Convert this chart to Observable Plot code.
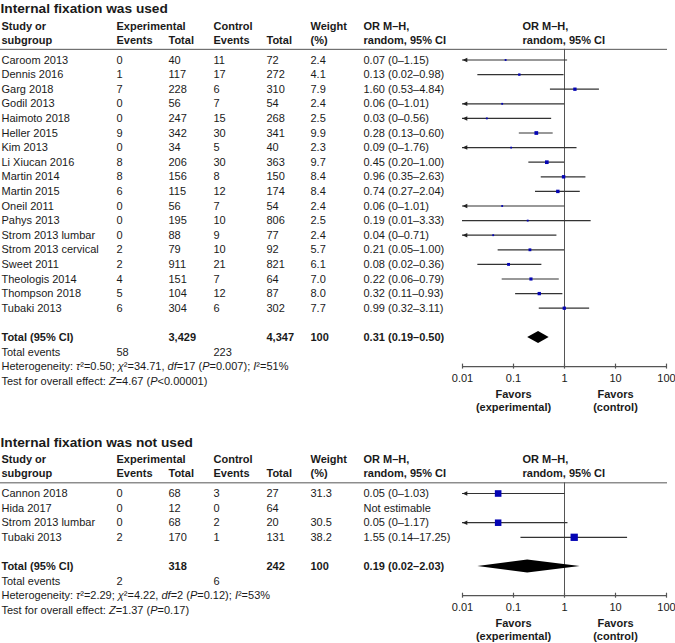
<!DOCTYPE html>
<html><head><meta charset="utf-8">
<script src="https://cdn.jsdelivr.net/npm/d3@7"></script>
<script src="https://cdn.jsdelivr.net/npm/@observablehq/plot@0.6"></script>
<style>body{margin:0;background:#fff;} svg{display:block}</style>
</head><body><div id="chart"></div>
<script>
// ---------- Panel 1: internal fixation was used ----------
const title1 = "Internal fixation was used";
const studies1 = ["Caroom 2013","Dennis 2016","Garg 2018","Godil 2013","Haimoto 2018","Heller 2015","Kim 2013","Li Xiucan 2016","Martin 2014","Martin 2015","Oneil 2011","Pahys 2013","Strom 2013 lumbar","Strom 2013 cervical","Sweet 2011","Theologis 2014","Thompson 2018","Tubaki 2013"];
const expEvents1 = [0,1,7,0,0,9,0,8,8,6,0,0,0,2,2,4,5,6];
const expTotal1  = [40,117,228,56,247,342,34,206,156,115,56,195,88,79,911,151,104,304];
const ctlEvents1 = [11,17,6,7,15,30,5,30,8,12,7,10,9,10,21,7,12,6];
const ctlTotal1  = [72,272,310,54,268,341,40,363,150,174,54,806,77,92,821,64,87,302];
const weights1   = [2.4,4.1,7.9,2.4,2.5,9.9,2.3,9.7,8.4,8.4,2.4,2.5,2.4,5.7,6.1,7.0,8.0,7.7];
const or1 = [0.07,0.13,1.60,0.06,0.03,0.28,0.09,0.45,0.96,0.74,0.06,0.19,0.04,0.21,0.08,0.22,0.32,0.99];
const lo1 = [0,0.02,0.53,0,0,0.13,0,0.20,0.35,0.27,0,0.01,0,0.05,0.02,0.06,0.11,0.32];
const hi1 = [1.15,0.98,4.84,1.01,0.56,0.60,1.76,1.00,2.63,2.04,1.01,3.33,0.71,1.00,0.36,0.79,0.93,3.11];
const totals1 = ["3,429","4,347","100"];
const pooled1 = [0.31,0.19,0.50];
const events1 = [58,223];
const het1 = ["0.50","34.71","17","0.007","51"];
const test1 = ["4.67","<0.00001"];

// ---------- Panel 2: internal fixation was not used ----------
const title2 = "Internal fixation was not used";
const studies2 = ["Cannon 2018","Hida 2017","Strom 2013 lumbar","Tubaki 2013"];
const expEvents2 = [0,0,0,2];
const expTotal2  = [68,12,68,170];
const ctlEvents2 = [3,0,2,1];
const ctlTotal2  = [27,64,20,131];
const weights2   = [31.3,null,30.5,38.2];
const or2 = [0.05,null,0.05,1.55];
const lo2 = [0,null,0,0.14];
const hi2 = [1.03,null,1.17,17.25];
const totals2 = ["318","242","100"];
const pooled2 = [0.19,0.02,2.03];
const events2 = [2,6];
const het2 = ["2.29","4.22","2","0.12","53"];
const test2 = ["1.37","=0.17"];

// ---------- shared ----------
const ticks = [0.01,0.1,1,10,100];
const tickLabels = ["0.01","0.1","1","10","100"];
const favors = [{x:0.1, a:"Favors", b:"(experimental)"},{x:10, a:"Favors", b:"(control)"}];
const headerLines = [
  ["Study or","Experimental","","Control","","Weight","OR M\u2013H,","OR M\u2013H,"],
  ["subgroup","Events","Total","Events","Total","(%)","random, 95% CI","random, 95% CI"]
];

const colX = [1,116,168,213,266,310,363,522];
const PX = 14.6;
const ink = "#1a1a1a";
const fmt = v => v === 0 ? "0" : v.toFixed(2);
const orText = (o,l,h) => `${o.toFixed(2)} (${fmt(l)}\u2013${fmt(h)})`;

const arrowLeft = { draw(ctx, size) { const r = Math.sqrt(size/Math.PI);
  ctx.moveTo(0,0); ctx.lineTo(1.5*r,-0.7*r); ctx.lineTo(1.5*r,0.7*r); ctx.closePath(); } };

function panel(p) {
  const n = p.studies.length;
  const rows = p.studies.map((s,i)=>({i, study:s, ee:p.ee[i], et:p.et[i], ce:p.ce[i], ct:p.ct[i],
    w:p.w[i], or:p.or[i], lo:p.lo[i], hi:p.hi[i]}));
  const ci = rows.filter(d=>d.or != null);
  const totalRow = n+1, eventsRow = n+2, hetRow = n+3, testRow = n+4, axisRow = n+3;

  const items = [];
  headerLines.forEach((line,k)=>line.forEach((t,c)=>{ if(t) items.push({r:k===0?-2.3:-1.35, c, t, b:true}); }));
  rows.forEach(d=>{
    items.push({r:d.i,c:0,t:d.study},{r:d.i,c:1,t:String(d.ee)},{r:d.i,c:2,t:String(d.et)},
      {r:d.i,c:3,t:String(d.ce)},{r:d.i,c:4,t:String(d.ct)},
      {r:d.i,c:5,t:d.w==null?"":d.w.toFixed(1)},
      {r:d.i,c:6,t:d.or==null?"Not estimable":orText(d.or,d.lo,d.hi)});
  });
  items.push({r:totalRow,c:0,t:"Total (95% CI)",b:true},{r:totalRow,c:2,t:p.totals[0],b:true},
    {r:totalRow,c:4,t:p.totals[1],b:true},{r:totalRow,c:5,t:p.totals[2],b:true},
    {r:totalRow,c:6,t:orText(...p.pooled),b:true});
  items.push({r:eventsRow,c:0,t:"Total events"},{r:eventsRow,c:1,t:String(p.events[0])},{r:eventsRow,c:3,t:String(p.events[1])});
  const h = p.het;
  items.push({r:hetRow,c:0,t:`Heterogeneity: *\u03c4*\u00b2=${h[0]}; *\u03c7*\u00b2=${h[1]}, *df*=${h[2]} (*P*=${h[3]}); *I*\u00b2=${h[4]}%`});
  items.push({r:testRow,c:0,t:`Test for overall effect: *Z*=${p.test[0]} (*P*${p.test[1]})`});

  const textMarks = [];
  colX.forEach((x,c)=>[false,true].forEach(b=>{
    const sel = items.filter(d=>d.c===c && !!d.b===b && d.t);
    if (sel.length) textMarks.push(Plot.text(sel,{frameAnchor:"left", dx:x, y:"r", text:"t", textAnchor:"start",
      fontWeight: b?"bold":"normal", fill:ink, fontSize:11}));
  }));

  const [po,pl,ph] = p.pooled;
  const dh = p.dh;
  const diamond = [{x:pl,y1:totalRow,y2:totalRow},{x:po,y1:totalRow-dh,y2:totalRow+dh},{x:ph,y1:totalRow,y2:totalRow}];

  const svg = Plot.plot({
    width:675, height:p.height, marginLeft:0, marginRight:8, marginTop:0, marginBottom:0,
    style:{fontFamily:"'Liberation Sans', Arial, sans-serif", fontSize:"11px", color:ink, background:"#fff", overflow:"visible"},
    x:{type:"log", domain:[0.01,100], range:[462,666], axis:null},
    y:{type:"linear", domain:[-p.row0/PX, (p.height-p.row0)/PX], range:[0,p.height], axis:null},
    r:{type:"sqrt", domain:[0,100], range:[0,6.66]},
    marks:[
      Plot.text([p.title],{frameAnchor:"left", dx:0, y:()=>-3.5, text:d=>d, textAnchor:"start", fontWeight:"bold", fontSize:13.7, fill:ink}),
      Plot.ruleY([-0.73],{y:d=>d, stroke:"#555", strokeWidth:1}),
      Plot.ruleX([1],{x:d=>d, y1:()=>-0.73, y2:()=>axisRow, stroke:"#555", strokeWidth:1}),
      ...textMarks,
      Plot.ruleY(ci,{y:"i", x1:d=>Math.max(d.lo,0.01), x2:"hi", stroke:"#333", strokeWidth:1.2}),
      Plot.dot(ci.filter(d=>d.lo===0),{x:()=>0.01, y:"i", symbol:arrowLeft, r:3.2, fill:"#222", stroke:"none"}),
      Plot.dot(ci,{x:"or", y:"i", r:"w", symbol:"square", fill:"#0404b4", stroke:"none"}),
      Plot.areaY(diamond,{x:"x", y1:"y1", y2:"y2", fill:"#000", curve:"linear"}),
      Plot.ruleY([axisRow],{y:d=>d, x1:()=>0.01, x2:()=>100, stroke:"#555", strokeWidth:1.2}),
      Plot.ruleX(ticks,{x:d=>d, y1:()=>axisRow-0.17, y2:()=>axisRow+0.17, stroke:"#555", strokeWidth:1.2}),
      Plot.text(ticks,{x:d=>d, y:()=>axisRow, dy:12, text:(d,i)=>tickLabels[i], fill:ink, fontSize:11}),
      Plot.text(favors,{x:"x", y:()=>axisRow+1.88, text:"a", fontWeight:"bold", fill:ink, fontSize:11}),
      Plot.text(favors,{x:"x", y:()=>axisRow+2.8, text:"b", fontWeight:"bold", fill:ink, fontSize:11})
    ]
  });
  d3.select(svg).selectAll("text").each(function(){
    const s = this.textContent;
    if (!s.includes("*")) return;
    const parts = s.split("*");
    this.textContent = "";
    parts.forEach((q,k)=>{ if(!q) return; const t = d3.select(this).append("tspan").text(q); if(k%2) t.attr("font-style","italic"); });
  });
  return svg;
}

const root = document.getElementById("chart");
root.appendChild(panel({title:title1, studies:studies1, ee:expEvents1, et:expTotal1, ce:ctlEvents1, ct:ctlTotal1,
  w:weights1, or:or1, lo:lo1, hi:hi1, totals:totals1, pooled:pooled1, events:events1, het:het1, test:test1,
  height:425, row0:59.5, dh:0.41}));
root.appendChild(panel({title:title2, studies:studies2, ee:expEvents2, et:expTotal2, ce:ctlEvents2, ct:ctlTotal2,
  w:weights2, or:or2, lo:lo2, hi:hi2, totals:totals2, pooled:pooled2, events:events2, het:het2, test:test2,
  height:218, row0:68, dh:0.45}));
</script>
</body></html>
